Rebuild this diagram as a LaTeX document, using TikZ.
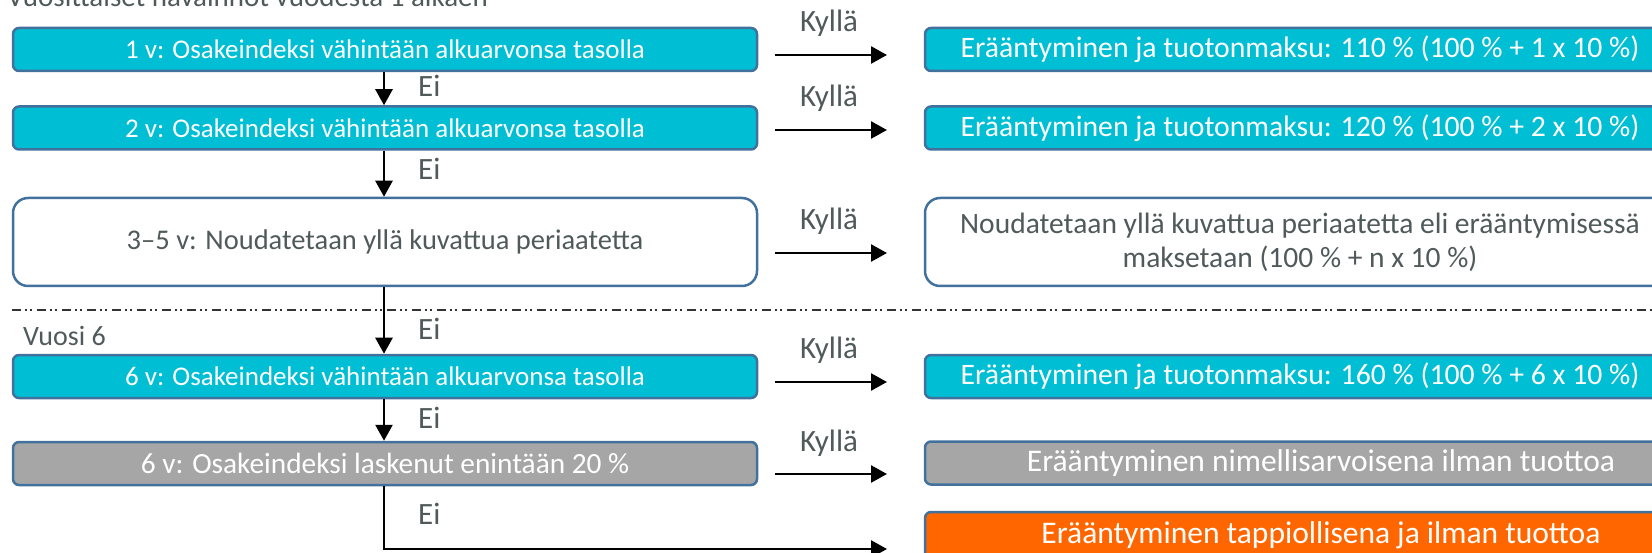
\documentclass[tikz,border=0pt]{standalone}
\usepackage{fontspec}
\setmainfont{Carlito}
\usetikzlibrary{arrows.meta}
\definecolor{cyanc}{RGB}{0,190,212}
\definecolor{bordc}{RGB}{65,113,156}
\definecolor{greyc}{RGB}{166,166,166}
\definecolor{orangec}{RGB}{255,102,0}
\definecolor{labc}{RGB}{80,90,90}
\tikzset{
  box/.style={draw=bordc, line width=2.5pt, rounded corners=6pt, minimum height=43pt, inner sep=0pt, font=\fontsize{27}{33}\selectfont, text=white},
  lbox/.style={box, minimum width=744pt},
  rbox/.style={box, minimum width=750pt, font=\fontsize{29.7}{35}\selectfont},
  wbox/.style={box, minimum width=792pt, font=\fontsize{31.5}{37}\selectfont},
  tallbox/.style={rounded corners=15pt, minimum height=88pt, fill=white, text=labc, align=center},
  lab/.style={font=\fontsize{31}{37}\selectfont, text=labc, inner sep=0pt, anchor=base},
  arr/.style={line width=2.6pt, -{Triangle[length=16pt,width=17pt]}},
  sep/.style={line width=1.6pt, draw=black!80, dash pattern=on 9pt off 4pt on 2pt off 3pt on 2pt off 5pt}
}
\begin{document}
\begin{tikzpicture}[x=1pt,y=-1pt]
\useasboundingbox (0,0) rectangle (1652,553);
\clip (0,0) rectangle (1652,553);
% title
\node[lab, anchor=base west, font=\fontsize{29}{35}\selectfont] (title) at (7,7) {Vuosittaiset havainnot vuodesta 1 alkaen};
% left boxes
\node[lbox, fill=cyanc] (L1) at (385,49.5) {1 v: Osakeindeksi vähintään alkuarvonsa tasolla};
\node[lbox, fill=cyanc] (L2) at (385,128) {2 v: Osakeindeksi vähintään alkuarvonsa tasolla};
\node[lbox, tallbox, font=\fontsize{28.5}{34}\selectfont] (L3) at (385,242) {3–5 v: Noudatetaan yllä kuvattua periaatetta};
\node[lbox, fill=cyanc] (L4) at (385,376.5) {6 v: Osakeindeksi vähintään alkuarvonsa tasolla};
\node[lbox, fill=greyc, font=\fontsize{29.3}{34}\selectfont] (L5) at (385,463.5) {6 v: Osakeindeksi laskenut enintään 20 \%};
% right boxes
\node[rbox, fill=cyanc] (R1) at (1300,49.5) {Erääntyminen ja tuotonmaksu: 110 \% (100 \% + 1 x 10 \%)};
\node[rbox, fill=cyanc] (R2) at (1300,128) {Erääntyminen ja tuotonmaksu: 120 \% (100 \% + 2 x 10 \%)};
\node[rbox, tallbox, font=\fontsize{29.5}{34}\selectfont] (R3) at (1300,242) {Noudatetaan yllä kuvattua periaatetta eli erääntymisessä\\maksetaan (100 \% + n x 10 \%)};
\node[rbox, fill=cyanc] (R4) at (1300,376.5) {Erääntyminen ja tuotonmaksu: 160 \% (100 \% + 6 x 10 \%)};
\node[wbox, fill=greyc] (R5) at (1321,463) {Erääntyminen nimellisarvoisena ilman tuottoa};
\node[wbox, fill=orangec, minimum height=46pt] (R6) at (1321,535) {Erääntyminen tappiollisena ja ilman tuottoa};
% separator
\coordinate (s1) at (12,310);
\coordinate (s2) at (1652,310);
\draw[sep] (s1) -- (s2);
\node[lab, anchor=base west, font=\fontsize{28}{34}\selectfont] (vuosi) at (23,345) {Vuosi 6};
% vertical arrows
\draw[arr] (L1.south -| 384,0) -- (L2.north -| 384,0);
\draw[arr] (L2.south -| 384,0) -- (L3.north -| 384,0);
\draw[arr] (L3.south -| 384,0) -- (L4.north -| 384,0);
\draw[arr] (L4.south -| 384,0) -- (L5.north -| 384,0);
\coordinate (corner) at (384,549);
\coordinate (end6) at (887,549);
\draw[arr] (L5.south -| 384,0) -- (corner) -- (end6);
% horizontal arrows
\foreach \i/\y in {1/55,2/130,3/253,4/382,5/474}{
  \coordinate (hs\i) at (775,\y);
  \coordinate (he\i) at (887,\y);
  \draw[arr] (hs\i) -- (he\i);
}
% labels
\node[lab] (k1) at (829,32) {Kyllä};
\node[lab] (k2) at (829,107) {Kyllä};
\node[lab] (k3) at (829,230) {Kyllä};
\node[lab] (k4) at (829,359) {Kyllä};
\node[lab] (k5) at (829,451) {Kyllä};
\node[lab, anchor=base west] (e1) at (418,97) {Ei};
\node[lab, anchor=base west] (e2) at (418,180) {Ei};
\node[lab, anchor=base west] (e3) at (418,340) {Ei};
\node[lab, anchor=base west] (e4) at (418,428) {Ei};
\node[lab, anchor=base west] (e5) at (418,524) {Ei};
\end{tikzpicture}
\end{document}
